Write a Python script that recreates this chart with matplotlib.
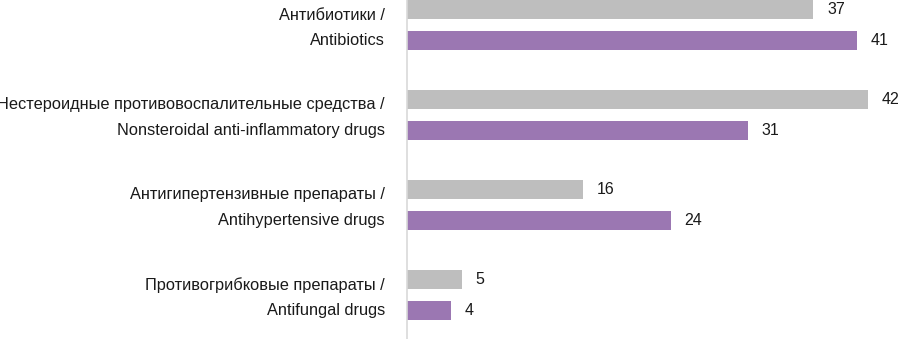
import matplotlib.pyplot as plt
import matplotlib.transforms as mtransforms
import numpy as np

# drug groups, top to bottom
categories = [
    "Антибиотики /\nAntibiotics",
    "Нестероидные противовоспалительные средства /\nNonsteroidal anti-inflammatory drugs",
    "Антигипертензивные препараты /\nAntihypertensive drugs",
    "Противогрибковые препараты /\nAntifungal drugs",
]
gray_values = [37, 42, 16, 5]
purple_values = [41, 31, 24, 4]

gray_color = "#BEBEBE"
purple_color = "#9B77B2"

plt.rcParams['font.family'] = ['Liberation Sans', 'DejaVu Sans']

fig = plt.figure(figsize=(8.98, 3.39), dpi=100)
ax = fig.add_axes([407 / 898, 0, 1 - 407 / 898, 1])

y = np.arange(len(categories))
off = 0.172
h = 0.212

ax.barh(y - off, gray_values, height=h, color=gray_color)
ax.barh(y + off, purple_values, height=h, color=purple_color)

# value labels next to bar ends
for yi, v in zip(y - off, gray_values):
    ax.text(v + 1.25, yi, str(v), ha='left', va='center', fontsize=11.5, color='#1a1a1a')
for yi, v in zip(y + off, purple_values):
    ax.text(v + 1.25, yi, str(v), ha='left', va='center', fontsize=11.5, color='#1a1a1a')

ax.set_xlim(0, 44.7)
ax.set_ylim(3.49, -0.278)

ax.set_yticks(y)
ax.set_yticklabels(categories, fontsize=11.8, color='#1a1a1a', linespacing=1.85)
ax.tick_params(axis='y', length=0, pad=16)
ax.set_xticks([])

# nudge the two-line labels up a little
shift = mtransforms.ScaledTranslation(0, 4 / 100, fig.dpi_scale_trans)
for lbl in ax.get_yticklabels():
    lbl.set_transform(lbl.get_transform() + shift)

for side in ['top', 'right', 'bottom']:
    ax.spines[side].set_visible(False)
ax.spines['left'].set_color('#D9D9D9')
ax.spines['left'].set_linewidth(1.2)

fig.savefig('out.png', dpi=100)
